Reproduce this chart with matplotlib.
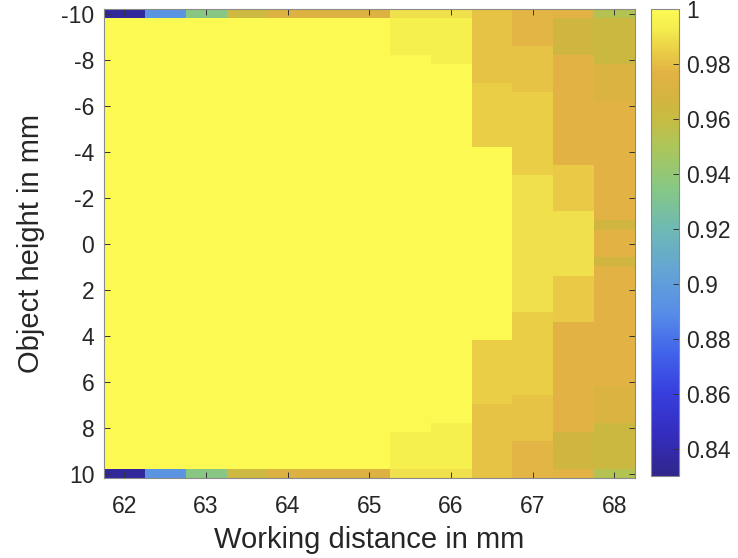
import numpy as np
import matplotlib
matplotlib.use("Agg")
import matplotlib.pyplot as plt
from matplotlib.colors import LinearSegmentedColormap

plt.rcParams['font.family'] = ['Liberation Sans', 'DejaVu Sans']
plt.rcParams['axes.unicode_minus'] = False

# working distance (columns) and object height (rows)
x_mm = [62, 62.5, 63, 63.5, 64, 64.5, 65, 65.5, 66, 66.5, 67, 67.5, 68]
y_mm = np.linspace(-10, 10, 51)

# values on the outer rows (y = -10 and y = 10)
edge_row = [0.835, 0.895, 0.935, 0.964, 0.973, 0.974, 0.974,
            0.990, 0.990, 0.982, 0.978, 0.977, 0.953]

# interior rows of each column, read top to bottom as (row count, value)
col_runs = [
    [(49, 1.0)],
    [(49, 1.0)],
    [(49, 1.0)],
    [(49, 1.0)],
    [(49, 1.0)],
    [(49, 1.0)],
    [(49, 1.0)],
    [(4, 0.995), (41, 1.0), (4, 0.995)],
    [(5, 0.995), (39, 1.0), (5, 0.995)],
    [(7, 0.982), (7, 0.985), (21, 1.0), (7, 0.985), (7, 0.982)],
    [(3, 0.978), (5, 0.982), (9, 0.985), (15, 0.990), (9, 0.985), (5, 0.982), (3, 0.978)],
    [(4, 0.965), (12, 0.977), (5, 0.984), (7, 0.990), (5, 0.984), (12, 0.977), (4, 0.965)],
    [(5, 0.963), (4, 0.972), (13, 0.977), (1, 0.966), (3, 0.977), (1, 0.966),
     (13, 0.977), (4, 0.972), (5, 0.963)],
]

# colour scale as it looks in the colorbar
cmap_vals = [0.830, 0.845, 0.860, 0.875, 0.890, 0.905, 0.920, 0.935,
             0.950, 0.960, 0.968, 0.977, 0.985, 0.993, 1.000]
cmap_rgb = [(48, 38, 140), (52, 45, 190), (55, 62, 222), (65, 100, 235),
            (88, 142, 232), (100, 165, 212), (110, 185, 180), (135, 200, 132),
            (172, 198, 90), (198, 188, 66), (212, 180, 64), (226, 178, 68),
            (234, 205, 70), (244, 236, 78), (252, 250, 82)]
vmin, vmax = 0.83, 1.0

cmap = LinearSegmentedColormap.from_list(
    "parula_like",
    [((v - vmin) / (vmax - vmin), tuple(c / 255 for c in rgb))
     for v, rgb in zip(cmap_vals, cmap_rgb)])

# build the matrix
Z = np.zeros((len(y_mm), len(x_mm)))
for j, runs in enumerate(col_runs):
    col = [edge_row[j]]
    for n, v in runs:
        col += [v] * n
    col.append(edge_row[j])
    Z[:, j] = col

dx = x_mm[1] - x_mm[0]
dy = y_mm[1] - y_mm[0]

fig = plt.figure(figsize=(7.38, 5.58), dpi=100)
ax = fig.add_axes([0.141, 0.143, 0.719, 0.840])
im = ax.imshow(Z, cmap=cmap, vmin=vmin, vmax=vmax, aspect='auto',
               interpolation='nearest',
               extent=[x_mm[0] - dx / 2, x_mm[-1] + dx / 2,
                       y_mm[-1] + dy / 2, y_mm[0] - dy / 2])

ax.set_xticks([62, 63, 64, 65, 66, 67, 68])
ax.set_yticks([-10, -8, -6, -4, -2, 0, 2, 4, 6, 8, 10])
ax.tick_params(direction='in', length=4, width=0.7, color='#333333',
               top=True, right=True, labelsize=16.5, labelcolor='#262626')
ax.tick_params(axis='x', pad=12)
ax.tick_params(axis='y', pad=7)
for s in ax.spines.values():
    s.set_color('#8a8a8a')
    s.set_linewidth(0.8)

ax.set_xlabel("Working distance in mm", fontsize=21, color='#262626', labelpad=6)
ax.set_ylabel("Object height in mm", fontsize=21, color='#262626', labelpad=12)

cax = fig.add_axes([0.882, 0.147, 0.038, 0.836])
cb = fig.colorbar(im, cax=cax)
cb.set_ticks([0.84, 0.86, 0.88, 0.9, 0.92, 0.94, 0.96, 0.98, 1])
cb.set_ticklabels(['0.84', '0.86', '0.88', '0.9', '0.92', '0.94', '0.96', '0.98', '1'])
cax.tick_params(direction='in', length=4, width=0.7, color='#333333',
                labelsize=16.5, pad=5, labelcolor='#262626')
cb.outline.set_edgecolor('#8a8a8a')
cb.outline.set_linewidth(0.8)

fig.savefig("out.png", dpi=100)
